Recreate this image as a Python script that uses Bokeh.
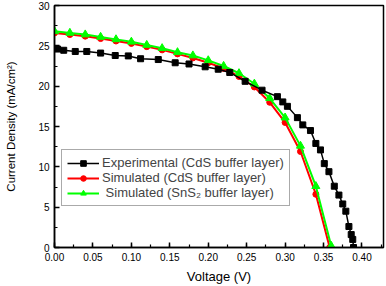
from bokeh.plotting import figure
from bokeh.models import (Legend, LegendItem, SingleIntervalTicker, NumeralTickFormatter,
                          Range1d, ColumnDataSource)
from bokeh.embed import file_html
from bokeh.resources import INLINE

# ---- data ----
exp_v = [0.004, 0.012, 0.027, 0.042, 0.060, 0.079, 0.096, 0.112, 0.135, 0.157,
         0.175, 0.196, 0.213, 0.228, 0.248, 0.270, 0.290, 0.297, 0.303, 0.316,
         0.323, 0.333, 0.340, 0.346, 0.351, 0.357, 0.364, 0.370, 0.375, 0.379,
         0.383, 0.386, 0.388, 0.389]
exp_j = [24.6, 24.45, 24.3, 24.3, 24.1, 23.8, 23.75, 23.4, 23.3, 22.9,
         22.75, 22.4, 22.1, 21.7, 20.6, 19.5, 18.7, 18.05, 17.5, 16.1,
         15.2, 14.5, 12.9, 12.1, 10.4, 9.4, 7.6, 6.5, 5.4, 4.5,
         2.6, 1.6, 1.0, 0.0]

sim_cds_v = [0.00, 0.02, 0.04, 0.06, 0.08, 0.10, 0.12, 0.14, 0.16, 0.18,
             0.20, 0.22, 0.24, 0.26, 0.28, 0.30, 0.32, 0.34, 0.358]
sim_cds_j = [26.6, 26.4, 26.2, 25.9, 25.6, 25.3, 24.9, 24.5, 24.0, 23.5,
             22.9, 22.2, 21.2, 19.9, 18.0, 15.5, 11.9, 6.6, 0.0]

sim_sns2_v = [0.00, 0.02, 0.04, 0.06, 0.08, 0.10, 0.12, 0.14, 0.16, 0.18,
              0.20, 0.22, 0.24, 0.26, 0.28, 0.30, 0.32, 0.34, 0.36]
sim_sns2_j = [26.8, 26.6, 26.4, 26.1, 25.8, 25.5, 25.1, 24.7, 24.2, 23.8,
              23.2, 22.5, 21.6, 20.3, 18.5, 16.1, 12.6, 7.6, 0.2]

labels = ["Experimental (CdS buffer layer)",
          "Simulated (CdS buffer layer)",
          " Simulated (SnS\u2082 buffer layer)"]

FONT = "Liberation Sans"

p = figure(width=386, height=286, output_backend="svg", toolbar_location=None,
           x_range=Range1d(0, 0.428), y_range=Range1d(0, 30),
           min_border_left=54, min_border_right=3, min_border_top=5, min_border_bottom=37)

p.xgrid.visible = False
p.ygrid.visible = False
p.outline_line_color = "black"
p.outline_line_width = 1.5
p.background_fill_color = "white"
p.border_fill_color = "white"

src_exp = ColumnDataSource(dict(x=exp_v, y=exp_j))
src_cds = ColumnDataSource(dict(x=sim_cds_v, y=sim_cds_j))
src_sns = ColumnDataSource(dict(x=sim_sns2_v, y=sim_sns2_j))

l_cds = p.line("x", "y", source=src_cds, line_color="#ff0000", line_width=2)
m_cds = p.scatter("x", "y", source=src_cds, marker="circle", size=6,
                  fill_color="#ff0000", line_color="#ff0000")
l_sns = p.line("x", "y", source=src_sns, line_color="#00ff00", line_width=2)
m_sns = p.scatter("x", "y", source=src_sns, marker="triangle", size=8,
                  fill_color="#00ff00", line_color="#00ff00")
l_exp = p.line("x", "y", source=src_exp, line_color="black", line_width=1.5)
m_exp = p.scatter("x", "y", source=src_exp, marker="square", size=6,
                  fill_color="black", line_color="black")

for ax in (p.xaxis[0], p.yaxis[0]):
    ax.major_tick_in = 5
    ax.major_tick_out = 0
    ax.minor_tick_in = 3
    ax.minor_tick_out = 0
    ax.axis_line_width = 1.5
    ax.major_tick_line_width = 1.5
    ax.minor_tick_line_width = 1.2
    ax.major_label_text_font = FONT
    ax.major_label_text_font_size = "10px"
    ax.major_label_text_color = "black"
    ax.axis_label_text_font = FONT
    ax.axis_label_text_font_style = "normal"
    ax.axis_label_text_color = "black"
    ax.major_label_standoff = 5

p.xaxis[0].ticker = SingleIntervalTicker(interval=0.05, num_minor_ticks=2)
p.xaxis[0].formatter = NumeralTickFormatter(format="0.00")
p.xaxis[0].axis_label = "Voltage (V)"
p.xaxis[0].axis_label_text_font_size = "13px"
p.xaxis[0].axis_label_standoff = 5

p.yaxis[0].ticker = SingleIntervalTicker(interval=5, num_minor_ticks=2)
p.yaxis[0].axis_label = "Current Density (mA/cm\u00b2)"
p.yaxis[0].axis_label_text_font_size = "11.5px"
p.yaxis[0].axis_label_standoff = 18

legend = Legend(items=[
    LegendItem(label=labels[0], renderers=[l_exp, m_exp]),
    LegendItem(label=labels[1], renderers=[l_cds, m_cds]),
    LegendItem(label=labels[2], renderers=[l_sns, m_sns]),
], location=(7, 41))
legend.label_text_font = FONT
legend.label_text_font_size = "13px"
legend.label_height = 14
legend.glyph_height = 14
legend.glyph_width = 32
legend.label_standoff = 3
legend.padding = 5
legend.spacing = 0
legend.margin = 0
legend.border_line_color = "#555555"
legend.border_line_width = 1
legend.background_fill_alpha = 1
p.add_layout(legend, "center")

open("out.html", "w").write(file_html(p, INLINE))
